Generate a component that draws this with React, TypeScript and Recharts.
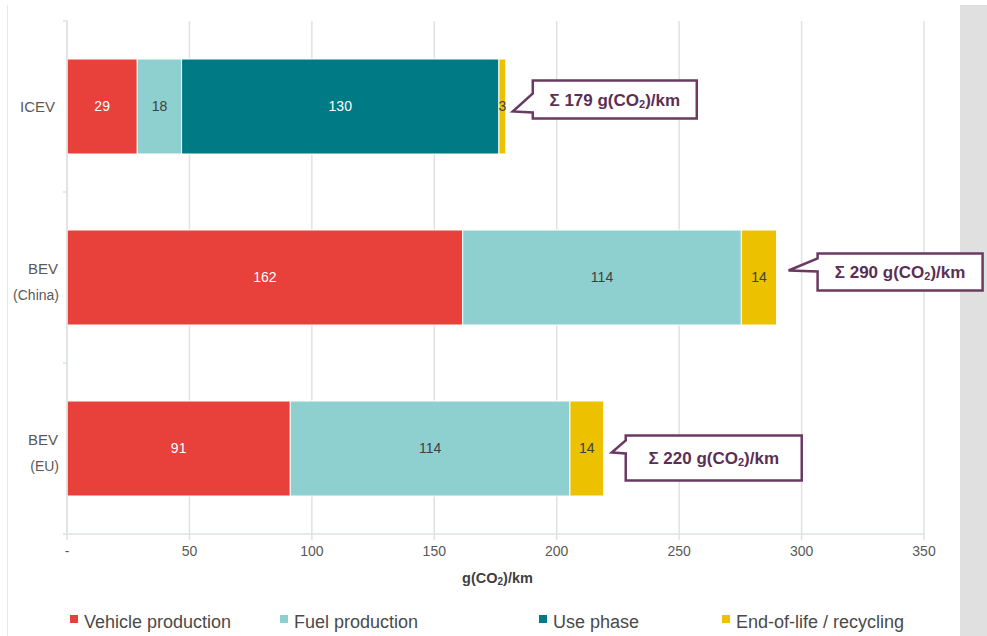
import React from 'react';
import { BarChart, Bar, XAxis, YAxis, CartesianGrid, Legend, LabelList } from 'recharts';

// ---- data ----
const categories = ['ICEV', 'BEV\n(China)', 'BEV\n(EU)'];
const vehicleProduction = [28.7, 161.6, 91.2];
const fuelProduction = [18.1, 113.8, 114.2];
const usePhase = [129.6, 0, 0];
const endOfLife = [2.8, 14.4, 13.8];
const totals = [179, 290, 220];
const xTicks = [0, 50, 100, 150, 200, 250, 300, 350];

const seriesNames = ['Vehicle production', 'Fuel production', 'Use phase', 'End-of-life / recycling'];

// ---- styles / layout ----
const W = 987;
const H = 636;
const MARGIN = { top: 21, right: 63, bottom: 4, left: 0 };
const XAXIS_H = 60;
const LEGEND_H = 38;
const PLOT_H = H - MARGIN.top - MARGIN.bottom - XAXIS_H - LEGEND_H;
const BAND = PLOT_H / categories.length;

const COLORS = ['#E8403A', '#8ECFD0', '#007A85', '#EBC100'];
const LABEL_COLORS = ['#ffffff', '#404040', '#ffffff', '#404040'];
const FONT = '"Liberation Sans", Arial, sans-serif';
const GRID = '#dde3e0';
const TEXT = '#595959';
const PURPLE = '#6b3a62';
const LEGEND_LEFT = [70, 280, 539, 722];
// callout layout per row: tip offset from bar end, box gap, box vertical span relative to bar centre
const CALLOUT = [
  { tipDx: 7, tipDy: 5, gap: 20, top: -26, bottom: 12, w: 164 },
  { tipDx: 12, tipDy: -7, gap: 29, top: -24, bottom: 13, w: 165 },
  { tipDx: 8, tipDy: 4, gap: 14, top: -13, bottom: 32, w: 176 },
];

const data = categories.map((name, i) => ({
  name,
  vehicle: vehicleProduction[i],
  fuel: fuelProduction[i],
  use: usePhase[i],
  eol: endOfLife[i],
  total: totals[i],
}));

const keys = ['vehicle', 'fuel', 'use', 'eol'];

const YTick = (props: any) => {
  const { x, y, payload, index } = props;
  const axisX = x + 9;
  const lines = String(payload.value).split('\n');
  const ticks = (
    <g stroke={GRID} strokeWidth={1.5}>
      <line x1={axisX - 5} x2={axisX} y1={y - BAND / 2} y2={y - BAND / 2} />
      {index === categories.length - 1 ? <line x1={axisX - 5} x2={axisX} y1={y + BAND / 2} y2={y + BAND / 2} /> : null}
    </g>
  );
  if (lines.length === 1) {
    return (
      <g>
        {ticks}
        <text x={x - 4} y={y} textAnchor="end" dominantBaseline="central" fill={TEXT} fontSize={15} fontFamily={FONT}>
          {lines[0]}
        </text>
      </g>
    );
  }
  return (
    <g>
      {ticks}
      <text x={x - 1} y={y - 9} textAnchor="end" dominantBaseline="central" fill={TEXT} fontSize={15} fontFamily={FONT}>
        {lines[0]}
      </text>
      <text x={x} y={y + 17} textAnchor="end" dominantBaseline="central" fill={TEXT} fontSize={14} fontFamily={FONT}>
        {lines[1]}
      </text>
    </g>
  );
};

const XLabel = (props: any) => {
  const { viewBox } = props;
  const cx = viewBox.x + viewBox.width / 2 + 2;
  const cy = viewBox.y + 44;
  return (
    <text x={cx} y={cy} textAnchor="middle" dominantBaseline="central" fill="#404040" fontSize={14.5} fontWeight="bold" fontFamily={FONT}>
      <tspan>g(CO</tspan>
      <tspan fontSize={10} dy={3}>2</tspan>
      <tspan dy={-3}>)/km</tspan>
    </text>
  );
};

const Callout = (props: any) => {
  const { x, y, width, height, value, index } = props;
  const i = typeof index === 'number' ? index : totals.indexOf(value);
  const c = CALLOUT[i] || CALLOUT[0];
  const end = x + width;
  const cy = y + height / 2;
  const tipX = end + c.tipDx;
  const tipY = cy + c.tipDy;
  const L = end + c.tipDx + c.gap;
  const R = L + c.w;
  const top = cy + c.top;
  const bottom = cy + c.bottom;
  const baseUp = Math.max(top + 5, tipY - 18);
  const baseLow = Math.min(bottom - 5, tipY + 1);
  const d = `M${L},${top} H${R} V${bottom} H${L} V${baseLow} L${tipX},${tipY} L${L},${baseUp} Z`;
  return (
    <g>
      <path d={d} fill="#ffffff" stroke={PURPLE} strokeWidth={2.5} strokeLinejoin="miter" />
      <text x={(L + R) / 2} y={(top + bottom) / 2} textAnchor="middle" dominantBaseline="central" fill="#5b2f54" fontSize={17} fontWeight="bold" fontFamily={FONT}>
        <tspan>{`Σ ${value} g(CO`}</tspan>
        <tspan fontSize={11} dy={4}>2</tspan>
        <tspan dy={-4}>)/km</tspan>
      </text>
    </g>
  );
};

const LegendContent = () => (
  <div style={{ position: 'relative', width: W, height: LEGEND_H, fontFamily: FONT }}>
    {seriesNames.map((n, i) => (
      <div key={n} style={{ position: 'absolute', left: LEGEND_LEFT[i], top: 0, height: LEGEND_H }}>
        <div style={{ position: 'absolute', left: 0, top: 21, width: 8, height: 8, background: COLORS[i] }} />
        <div style={{ position: 'absolute', left: 14, top: 19, lineHeight: '18px', fontSize: 18, color: '#4a4a4a', whiteSpace: 'nowrap' }}>
          {n}
        </div>
      </div>
    ))}
  </div>
);

export default function App() {
  return (
    <div style={{ position: 'absolute', left: 0, top: 0, width: W, height: H, background: '#ffffff', overflow: 'hidden' }}>
      <div style={{ position: 'absolute', left: 960, top: 5, width: 27, height: H - 5, background: '#e0e0e0' }} />
      <div style={{ position: 'absolute', left: 7, top: 5, width: 1, height: H - 5, background: '#e4e8e6' }} />
      <BarChart
        width={W}
        height={H}
        data={data}
        layout="vertical"
        margin={MARGIN}
        style={{ fontFamily: FONT }}
      >
        <CartesianGrid horizontal={false} vertical stroke={GRID} strokeWidth={1.5} />
        <XAxis
          type="number"
          domain={[0, 350]}
          ticks={xTicks}
          interval={0}
          height={XAXIS_H}
          axisLine={{ stroke: GRID, strokeWidth: 1.5 }}
          tickLine={{ stroke: GRID, strokeWidth: 1.5 }}
          tickSize={6}
          tickMargin={6}
          tick={{ fill: TEXT, fontSize: 14, fontFamily: FONT }}
          tickFormatter={(v: number) => (v === 0 ? '-' : String(v))}
          label={<XLabel />}
        />
        <YAxis
          type="category"
          dataKey="name"
          width={67}
          axisLine={{ stroke: GRID, strokeWidth: 1.5 }}
          tickLine={false}
          tick={<YTick />}
          interval={0}
        />
        <Legend verticalAlign="bottom" content={<LegendContent />} wrapperStyle={{ left: 0, width: W, bottom: MARGIN.bottom, height: LEGEND_H }} />
        {keys.map((k, i) => (
          <Bar
            key={k}
            dataKey={k}
            name={seriesNames[i]}
            stackId="a"
            fill={COLORS[i]}
            stroke="#ffffff"
            strokeWidth={1}
            barSize={95}
            isAnimationActive={false}
          >
            <LabelList
              dataKey={k}
              position="center"
              fill={LABEL_COLORS[i]}
              fontSize={14}
              fontFamily={FONT}
              formatter={(v: any) => (v ? Math.round(Number(v)) : '')}
            />
            {k === 'eol' ? <LabelList dataKey="total" content={<Callout />} /> : null}
          </Bar>
        ))}
      </BarChart>
    </div>
  );
}
